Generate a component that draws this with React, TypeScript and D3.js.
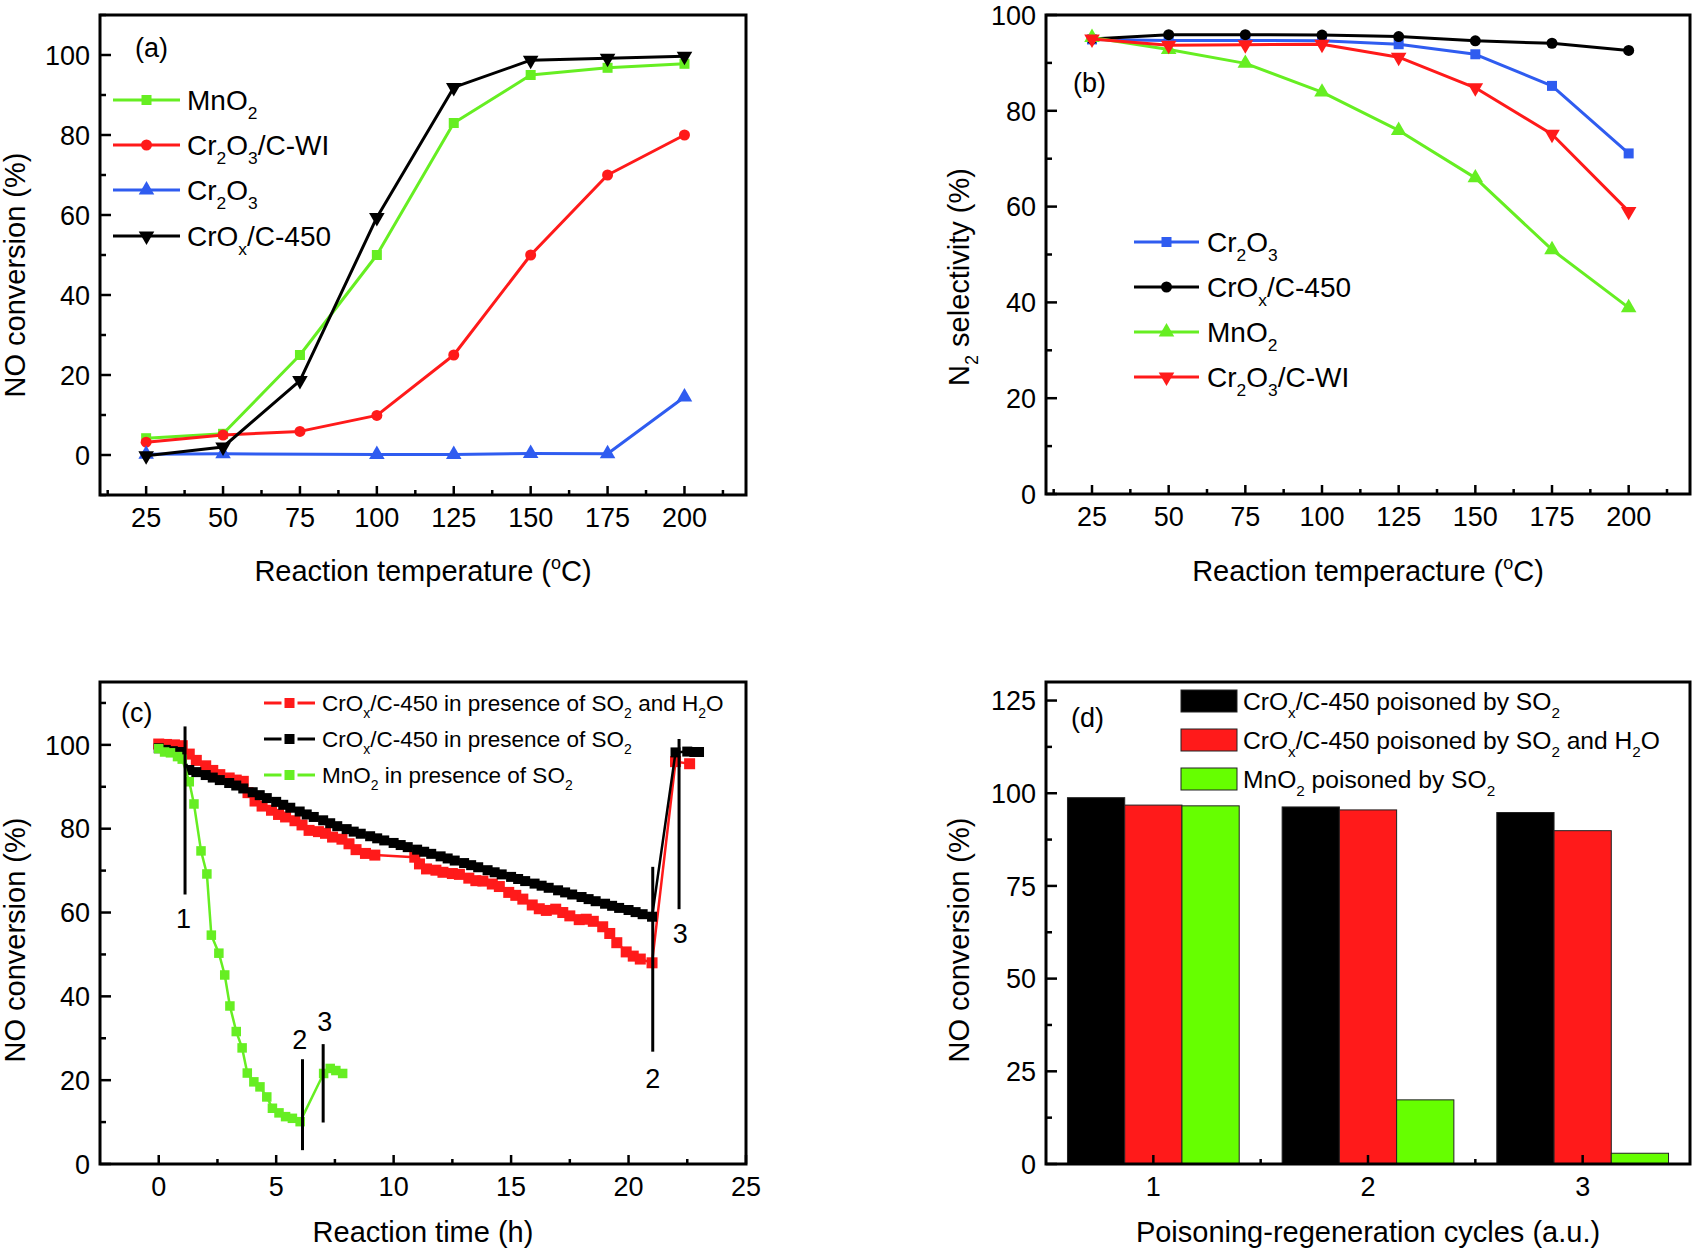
import React from 'react';
import * as d3 from 'd3';

const FONT = '"Liberation Sans", Arial, Helvetica, sans-serif';
const GREEN = '#66ee22';
const GREEN_BAR = '#66ff00';
const RED = '#ff1a1a';
const BLUE = '#2f5cf0';
const BLACK = '#000000';

// ---------- (a) NO conversion vs temperature ----------
const tempA = [25, 50, 75, 100, 125, 150, 175, 200];
const a_MnO2 = [4.2, 5.3, 25, 50, 83, 95, 96.8, 97.8];
const a_Cr2O3CWI = [3.2, 5, 5.9, 9.9, 25, 50, 70, 80];
const a_Cr2O3_temp = [25, 50, 100, 125, 150, 175, 200];
const a_Cr2O3 = [0.2, 0.3, 0.1, 0.1, 0.4, 0.3, 14.5];
const a_CrOx = [-0.2, 2, 18.6, 59.4, 91.9, 98.7, 99.2, 99.7];

// ---------- (b) N2 selectivity ----------
const tempB = [25, 50, 75, 100, 125, 150, 175, 200];
const b_Cr2O3 = [94.9, 94.7, 94.7, 94.6, 93.9, 91.8, 85.2, 71.1];
const b_CrOx = [95, 95.9, 95.9, 95.8, 95.5, 94.6, 94.1, 92.6];
const b_MnO2 = [95.3, 92.8, 89.9, 83.9, 75.9, 66, 51, 38.9];
const b_Cr2O3CWI = [95, 93.7, 93.8, 93.9, 91.2, 84.8, 75.1, 59];

// ---------- (c) stability test [time h, NO conversion %] ----------
const c_SO2H2O: [number, number][] = [
  [0, 100.2], [0.33, 100.1], [0.67, 100], [1.0, 99.8], [1.3, 97.8], [1.6, 96.3], [2.0, 95], [2.3, 93.9],
  [2.6, 92.9], [3.0, 92.1], [3.3, 91.6], [3.6, 91.3], [3.8, 88.6], [4.1, 86.6], [4.4, 85.4], [4.8, 84.4],
  [5.1, 83.4], [5.4, 82.8], [5.8, 81.9], [6.1, 80.9], [6.4, 79.6], [6.8, 79.3], [7.1, 78.9], [7.4, 78.0],
  [7.8, 77.5], [8.1, 76.4], [8.4, 75.0], [8.8, 74.1], [9.2, 73.7], [10.9, 73.2], [11.1, 71.6], [11.4, 70.4],
  [11.8, 70.1], [12.1, 69.6], [12.5, 69.3], [12.8, 69.1], [13.2, 68.2], [13.5, 67.6], [13.8, 67.5], [14.2, 66.8],
  [14.5, 66.2], [14.9, 64.8], [15.2, 64.1], [15.5, 63.2], [15.9, 61.8], [16.2, 60.9], [16.5, 60.5], [16.9, 60.8],
  [17.2, 60.0], [17.5, 59.2], [17.9, 58.3], [18.2, 58.4], [18.5, 57.9], [18.9, 56.6], [19.2, 55.0], [19.5, 52.8],
  [19.9, 50.6], [20.2, 49.6], [20.5, 48.9], [21.0, 48.0], [22.0, 96.0], [22.6, 95.5],
];
const c_SO2: [number, number][] = [
  [0, 99.2], [0.3, 98.8], [0.6, 98.5], [0.9, 98.3], [1.3, 94.0], [1.6, 93.5], [2.0, 92.8], [2.3, 92.2],
  [2.6, 91.6], [3.0, 90.9], [3.3, 90.3], [3.6, 89.6], [4.0, 88.7], [4.3, 88.0], [4.6, 87.3], [5.0, 86.4],
  [5.3, 85.7], [5.6, 85.0], [6.0, 84.1], [6.3, 83.4], [6.6, 82.8], [7.0, 82.0], [7.3, 81.3], [7.6, 80.6],
  [8.0, 79.9], [8.3, 79.3], [8.6, 78.8], [9.0, 78.2], [9.3, 77.7], [9.6, 77.2], [10.0, 76.6], [10.3, 76.1],
  [10.6, 75.6], [11.0, 75.0], [11.3, 74.5], [11.6, 74.0], [12.0, 73.4], [12.3, 72.9], [12.6, 72.4], [13.0, 71.8],
  [13.3, 71.3], [13.6, 70.8], [14.0, 70.1], [14.3, 69.6], [14.6, 69.1], [15.0, 68.5], [15.3, 68.0], [15.6, 67.5],
  [16.0, 66.9], [16.3, 66.4], [16.6, 65.9], [17.0, 65.3], [17.3, 64.8], [17.6, 64.3], [18.0, 63.7], [18.3, 63.2],
  [18.6, 62.7], [19.0, 62.1], [19.3, 61.6], [19.6, 61.1], [20.0, 60.6], [20.3, 60.1], [20.6, 59.6], [21.0, 59.0],
  [22.0, 98.2], [22.5, 98.4], [22.8, 98.3], [23.0, 98.3],
];
const c_MnO2: [number, number][] = [
  [0, 99.1], [0.25, 98.3], [0.5, 98.1], [0.8, 97.2], [1.0, 96.6], [1.3, 91.2], [1.5, 85.9], [1.8, 74.7],
  [2.05, 69.2], [2.24, 54.6], [2.56, 50.3], [2.81, 45.1], [3.03, 37.7], [3.3, 31.6], [3.55, 27.7], [3.77, 21.7],
  [4.05, 19.6], [4.31, 18.4], [4.6, 16.0], [4.84, 13.3], [5.12, 12.2], [5.4, 11.3], [5.69, 10.9], [6.02, 10.1],
  [7.02, 21.6], [7.3, 22.8], [7.54, 22.3], [7.83, 21.6],
];
// event marks: [time, yTop, yBottom, label, labelTime, labelY]
const c_marks: [number, number, number, string, number, number][] = [
  [1.12, 104.4, 64.3, '1', 1.06, 58.6],
  [6.12, 25, 3.3, '2', 6.0, 29.6],
  [7.0, 28.6, 9.9, '3', 7.07, 34.0],
  [21.03, 70.9, 26.8, '2', 21.03, 20.4],
  [22.15, 101.4, 60.8, '3', 22.2, 54.9],
];

// ---------- (d) poisoning-regeneration cycles ----------
const d_cycles = [1, 2, 3];
const d_SO2 = [98.8, 96.3, 94.8];
const d_SO2H2O = [96.8, 95.5, 89.9];
const d_MnO2 = [96.6, 17.3, 2.9];

type Seg = [string, ('sub' | 'sup')?];
type P = { l: number; r: number; t: number; b: number };

const PA: P = { l: 100, r: 746, t: 15, b: 495 };
const PB: P = { l: 1046, r: 1690, t: 15, b: 494 };
const PC: P = { l: 100, r: 746, t: 682, b: 1164 };
const PD: P = { l: 1046, r: 1690, t: 682, b: 1164 };

const TICK_FS = 27;
const TITLE_FS = 29;

function Rich({ x, y, fs, segs, anchor = 'start', transform }: { x?: number; y?: number; fs: number; segs: Seg[]; anchor?: string; transform?: string }) {
  let cur = 0;
  return (
    <text x={x} y={y} fontSize={fs} fontFamily={FONT} textAnchor={anchor} transform={transform} fill="#000">
      {segs.map(([t, k], i) => {
        const want = k === 'sub' ? 0.32 * fs : k === 'sup' ? -0.42 * fs : 0;
        const dy = want - cur;
        cur = want;
        return (
          <tspan key={i} dy={dy} fontSize={k ? 0.62 * fs : fs}>
            {t}
          </tspan>
        );
      })}
    </text>
  );
}

function Marker({ cx, cy, kind, size, color }: { cx: number; cy: number; kind: string; size: number; color: string }) {
  if (kind === 'square') return <rect x={cx - size / 2} y={cy - size / 2} width={size} height={size} fill={color} />;
  if (kind === 'circle') return <circle cx={cx} cy={cy} r={size / 2} fill={color} />;
  const p = d3.symbol().type(d3.symbolTriangle).size(size * size * 0.62)() as string;
  return <path d={p} transform={`translate(${cx},${cy})${kind === 'triDown' ? ' rotate(180)' : ''}`} fill={color} />;
}

function Series({ pts, x, y, color, kind, size, width = 3 }: { pts: [number, number][]; x: any; y: any; color: string; kind: string; size: number; width?: number }) {
  const line = d3.line<[number, number]>().x((d) => x(d[0])).y((d) => y(d[1]));
  return (
    <g>
      <path d={line(pts) as string} fill="none" stroke={color} strokeWidth={width} strokeLinejoin="round" />
      {pts.map((d, i) => (
        <Marker key={i} cx={x(d[0])} cy={y(d[1])} kind={kind} size={size} color={color} />
      ))}
    </g>
  );
}

function Frame({ p, x, y, xMajor, xMinor, yMajor, yMinor, fs = TICK_FS }: { p: P; x: any; y: any; xMajor: number[]; xMinor: number[]; yMajor: number[]; yMinor: number[]; fs?: number }) {
  return (
    <g stroke="#000">
      {xMinor.map((v) => <line key={'xm' + v} x1={x(v)} x2={x(v)} y1={p.b} y2={p.b - 5} strokeWidth={2.5} />)}
      {xMajor.map((v) => <line key={'xM' + v} x1={x(v)} x2={x(v)} y1={p.b} y2={p.b - 9} strokeWidth={2.5} />)}
      {yMinor.map((v) => <line key={'ym' + v} x1={p.l} x2={p.l + 6} y1={y(v)} y2={y(v)} strokeWidth={2.5} />)}
      {yMajor.map((v) => <line key={'yM' + v} x1={p.l} x2={p.l + 11} y1={y(v)} y2={y(v)} strokeWidth={2.5} />)}
      <rect x={p.l} y={p.t} width={p.r - p.l} height={p.b - p.t} fill="none" strokeWidth={3} />
      <g stroke="none" fill="#000" fontFamily={FONT} fontSize={fs}>
        {xMajor.map((v) => (
          <text key={'xl' + v} x={x(v)} y={p.b + 32} textAnchor="middle">{v}</text>
        ))}
        {yMajor.map((v) => (
          <text key={'yl' + v} x={p.l - 10} y={y(v) + fs * 0.36} textAnchor="end">{v}</text>
        ))}
      </g>
    </g>
  );
}

function LegendLine({ x1, x2, y, color, kind, size, label, fs, tx, gap = 0 }: any) {
  const mx = (x1 + x2) / 2;
  return (
    <g>
      {gap > 0 ? (
        <g stroke={color} strokeWidth={3}>
          <line x1={x1} x2={mx - gap} y1={y} y2={y} />
          <line x1={mx + gap} x2={x2} y1={y} y2={y} />
        </g>
      ) : (
        <line x1={x1} x2={x2} y1={y} y2={y} stroke={color} strokeWidth={3} />
      )}
      <Marker cx={mx} cy={y} kind={kind} size={size} color={color} />
      <Rich x={tx} y={y + fs * 0.36} fs={fs} segs={label} />
    </g>
  );
}

const L_MnO2: Seg[] = [['MnO'], ['2', 'sub']];
const L_CWI: Seg[] = [['Cr'], ['2', 'sub'], ['O'], ['3', 'sub'], ['/C-WI']];
const L_Cr2O3: Seg[] = [['Cr'], ['2', 'sub'], ['O'], ['3', 'sub']];
const L_CrOx: Seg[] = [['CrO'], ['x', 'sub'], ['/C-450']];

function PanelA() {
  const p = PA;
  const x = d3.scaleLinear().domain([10, 220]).range([p.l, p.r]);
  const y = d3.scaleLinear().domain([-10, 110]).range([p.b, p.t]);
  const zip = (xs: number[], ys: number[]) => xs.map((v, i) => [v, ys[i]] as [number, number]);
  return (
    <g>
      <Series pts={zip(tempA, a_MnO2)} x={x} y={y} color={GREEN} kind="square" size={10} />
      <Series pts={zip(tempA, a_Cr2O3CWI)} x={x} y={y} color={RED} kind="circle" size={11} />
      <Series pts={zip(a_Cr2O3_temp, a_Cr2O3)} x={x} y={y} color={BLUE} kind="triUp" size={13} />
      <Series pts={zip(tempA, a_CrOx)} x={x} y={y} color={BLACK} kind="triDown" size={13} />
      <Frame p={p} x={x} y={y} xMajor={tempA} xMinor={[12.5, 37.5, 62.5, 87.5, 112.5, 137.5, 162.5, 187.5, 212.5]}
        yMajor={[0, 20, 40, 60, 80, 100]} yMinor={[-10, 10, 30, 50, 70, 90, 110]} />
      <text x={135} y={57} fontFamily={FONT} fontSize={27}>(a)</text>
      <LegendLine x1={113} x2={180} y={100} color={GREEN} kind="square" size={10} label={L_MnO2} fs={28} tx={187} />
      <LegendLine x1={113} x2={180} y={145} color={RED} kind="circle" size={11} label={L_CWI} fs={28} tx={187} />
      <LegendLine x1={113} x2={180} y={190} color={BLUE} kind="triUp" size={13} label={L_Cr2O3} fs={28} tx={187} />
      <LegendLine x1={113} x2={180} y={236} color={BLACK} kind="triDown" size={13} label={L_CrOx} fs={28} tx={187} />
      <Rich x={(p.l + p.r) / 2} y={581} fs={TITLE_FS} anchor="middle" segs={[['Reaction temperature ('], ['o', 'sup'], ['C)']]} />
      <Rich transform="translate(25,275) rotate(-90)" fs={TITLE_FS} anchor="middle" segs={[['NO conversion (%)']]} />
    </g>
  );
}

function PanelB() {
  const p = PB;
  const x = d3.scaleLinear().domain([10, 220]).range([p.l, p.r]);
  const y = d3.scaleLinear().domain([0, 100]).range([p.b, p.t]);
  const zip = (ys: number[]) => tempB.map((v, i) => [v, ys[i]] as [number, number]);
  return (
    <g>
      <Series pts={zip(b_Cr2O3)} x={x} y={y} color={BLUE} kind="square" size={10} />
      <Series pts={zip(b_CrOx)} x={x} y={y} color={BLACK} kind="circle" size={11} />
      <Series pts={zip(b_MnO2)} x={x} y={y} color={GREEN} kind="triUp" size={13} />
      <Series pts={zip(b_Cr2O3CWI)} x={x} y={y} color={RED} kind="triDown" size={13} />
      <Frame p={p} x={x} y={y} xMajor={tempB} xMinor={[12.5, 37.5, 62.5, 87.5, 112.5, 137.5, 162.5, 187.5, 212.5]}
        yMajor={[0, 20, 40, 60, 80, 100]} yMinor={[10, 30, 50, 70, 90]} />
      <text x={1073} y={92} fontFamily={FONT} fontSize={27}>(b)</text>
      <LegendLine x1={1134} x2={1199} y={242} color={BLUE} kind="square" size={10} label={L_Cr2O3} fs={28} tx={1207} />
      <LegendLine x1={1134} x2={1199} y={287} color={BLACK} kind="circle" size={11} label={L_CrOx} fs={28} tx={1207} />
      <LegendLine x1={1134} x2={1199} y={332} color={GREEN} kind="triUp" size={13} label={L_MnO2} fs={28} tx={1207} />
      <LegendLine x1={1134} x2={1199} y={377} color={RED} kind="triDown" size={13} label={L_CWI} fs={28} tx={1207} />
      <Rich x={(p.l + p.r) / 2} y={581} fs={TITLE_FS} anchor="middle" segs={[['Reaction temperacture ('], ['o', 'sup'], ['C)']]} />
      <Rich transform="translate(969,277) rotate(-90)" fs={TITLE_FS} anchor="middle" segs={[['N'], ['2', 'sub'], [' selectivity (%)']]} />
    </g>
  );
}

function PanelC() {
  const p = PC;
  const x = d3.scaleLinear().domain([-2.5, 25]).range([p.l, p.r]);
  const y = d3.scaleLinear().domain([0, 115]).range([p.b, p.t]);
  return (
    <g>
      <Series pts={c_SO2H2O} x={x} y={y} color={RED} kind="square" size={11} width={2.5} />
      <Series pts={c_SO2} x={x} y={y} color={BLACK} kind="square" size={10} width={2.5} />
      <Series pts={c_MnO2} x={x} y={y} color={GREEN} kind="square" size={9.5} width={2.5} />
      {c_marks.map(([t, y1, y2, lab, lt, ly], i) => (
        <g key={i}>
          <line x1={x(t)} x2={x(t)} y1={y(y1)} y2={y(y2)} stroke="#000" strokeWidth={3} />
          <text x={x(lt)} y={y(ly) + 9.5} textAnchor="middle" fontFamily={FONT} fontSize={27}>{lab}</text>
        </g>
      ))}
      <Frame p={p} x={x} y={y} xMajor={[0, 5, 10, 15, 20, 25]} xMinor={[2.5, 7.5, 12.5, 17.5, 22.5]}
        yMajor={[0, 20, 40, 60, 80, 100]} yMinor={[10, 30, 50, 70, 90, 110]} />
      <text x={121} y={722} fontFamily={FONT} fontSize={27}>(c)</text>
      <LegendLine x1={264} x2={315} y={703} color={RED} kind="square" size={10} gap={8} fs={22.5} tx={322}
        label={[['CrO'], ['x', 'sub'], ['/C-450 in presence of SO'], ['2', 'sub'], [' and H'], ['2', 'sub'], ['O']]} />
      <LegendLine x1={264} x2={315} y={739} color={BLACK} kind="square" size={10} gap={8} fs={22.5} tx={322}
        label={[['CrO'], ['x', 'sub'], ['/C-450 in presence of SO'], ['2', 'sub']]} />
      <LegendLine x1={264} x2={315} y={775} color={GREEN} kind="square" size={10} gap={8} fs={22.5} tx={322}
        label={[['MnO'], ['2', 'sub'], [' in presence of SO'], ['2', 'sub']]} />
      <Rich x={(p.l + p.r) / 2} y={1242} fs={TITLE_FS} anchor="middle" segs={[['Reaction time (h)']]} />
      <Rich transform="translate(25,940) rotate(-90)" fs={TITLE_FS} anchor="middle" segs={[['NO conversion (%)']]} />
    </g>
  );
}

function PanelD() {
  const p = PD;
  const x = d3.scaleLinear().domain([0.5, 3.5]).range([p.l, p.r]);
  const y = d3.scaleLinear().domain([0, 130]).range([p.b, p.t]);
  const keys = ['SO2', 'SO2H2O', 'MnO2'];
  const vals: Record<string, number[]> = { SO2: d_SO2, SO2H2O: d_SO2H2O, MnO2: d_MnO2 };
  const cols: Record<string, string> = { SO2: BLACK, SO2H2O: RED, MnO2: GREEN_BAR };
  const half = x(1.4) - x(1);
  const band = d3.scaleBand().domain(keys).range([-half, half]);
  return (
    <g>
      {d_cycles.map((c, i) =>
        keys.map((k) => (
          <rect key={k + c} x={x(c) + (band(k) as number)} width={band.bandwidth()} y={y(vals[k][i])}
            height={y(0) - y(vals[k][i])} fill={cols[k]} stroke="#222" strokeWidth={1} />
        ))
      )}
      <Frame p={p} x={x} y={y} xMajor={d_cycles} xMinor={[1.5, 2.5]}
        yMajor={[0, 25, 50, 75, 100, 125]} yMinor={[12.5, 37.5, 62.5, 87.5, 112.5]} />
      <text x={1071} y={727} fontFamily={FONT} fontSize={27}>(d)</text>
      {[
        { k: 'SO2', yy: 701, lab: [['CrO'], ['x', 'sub'], ['/C-450 poisoned by SO'], ['2', 'sub']] as Seg[] },
        { k: 'SO2H2O', yy: 740, lab: [['CrO'], ['x', 'sub'], ['/C-450 poisoned by SO'], ['2', 'sub'], [' and H'], ['2', 'sub'], ['O']] as Seg[] },
        { k: 'MnO2', yy: 779, lab: [['MnO'], ['2', 'sub'], [' poisoned by SO'], ['2', 'sub']] as Seg[] },
      ].map((e) => (
        <g key={e.k}>
          <rect x={1181} y={e.yy - 11} width={56} height={22} fill={cols[e.k]} stroke="#222" strokeWidth={1} />
          <Rich x={1243} y={e.yy + 9} fs={24.6} segs={e.lab} />
        </g>
      ))}
      <Rich x={(p.l + p.r) / 2} y={1242} fs={TITLE_FS} anchor="middle" segs={[['Poisoning-regeneration cycles (a.u.)']]} />
      <Rich transform="translate(969,940) rotate(-90)" fs={TITLE_FS} anchor="middle" segs={[['NO conversion (%)']]} />
    </g>
  );
}

export default function App() {
  return (
    <svg width={1695} height={1253} viewBox="0 0 1695 1253" style={{ position: 'absolute', left: 0, top: 0, background: '#fff' }}>
      <rect x={0} y={0} width={1695} height={1253} fill="#fff" />
      <PanelA />
      <PanelB />
      <PanelC />
      <PanelD />
    </svg>
  );
}
